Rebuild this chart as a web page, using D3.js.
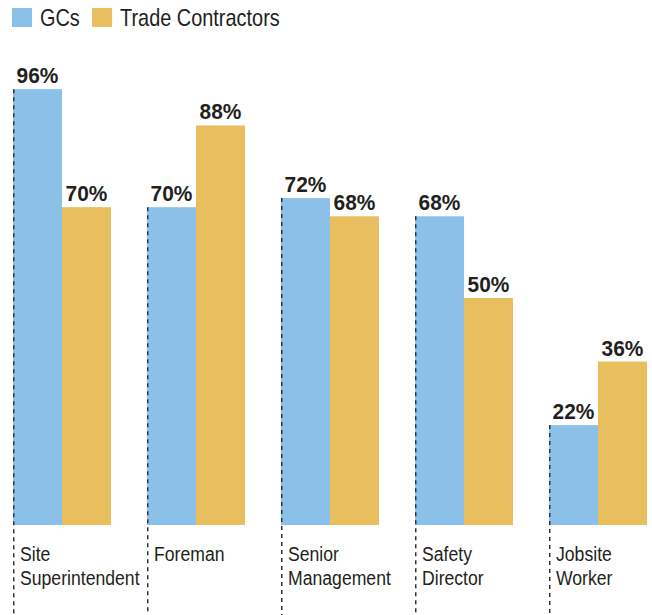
<!DOCTYPE html>
<html>
<head>
<meta charset="utf-8">
<script src="https://cdn.jsdelivr.net/npm/d3@7"></script>
<style>
  body { margin: 0; background: #fff; }
  text { font-family: "Liberation Sans", Arial, sans-serif; }
</style>
</head>
<body>
<div id="chart"></div>
<script>
// chart data
var categories = [["Site", "Superintendent"], ["Foreman"], ["Senior", "Management"], ["Safety", "Director"], ["Jobsite", "Worker"]];
var seriesNames = ["GCs", "Trade Contractors"];
var gcValues = [96, 70, 72, 68, 22];
var tradeValues = [70, 88, 68, 50, 36];
var colors = ["#8bc1e8", "#e8be5e"];

var width = 652, height = 615;
var baseline = 525;

var svg = d3.select("#chart").append("svg")
    .attr("width", width)
    .attr("height", height);

var x = d3.scaleBand()
    .domain(d3.range(categories.length))
    .range([13, 683]);

var inner = d3.scaleBand()
    .domain([0, 1])
    .range([0, 98]);

var y = d3.scaleLinear()
    .domain([0, 100])
    .range([baseline, baseline - 454]);

// legend (condensed look via horizontal squeeze)
var legend = svg.append("g");
var legendX = [12, 92];
seriesNames.forEach(function(name, i) {
  legend.append("rect")
    .attr("x", legendX[i]).attr("y", 8)
    .attr("width", 20).attr("height", 19)
    .attr("fill", colors[i]);
  legend.append("text")
    .attr("transform", "translate(" + (legendX[i] + 28) + ",26) scale(0.83,1)")
    .attr("font-size", 24)
    .attr("fill", "#231f20")
    .text(name);
});

var groups = svg.selectAll(".group")
    .data(categories)
  .enter().append("g")
    .attr("class", "group")
    .attr("transform", function(d, i) { return "translate(" + x(i) + ",0)"; });

groups.each(function(d, i) {
  var g = d3.select(this);
  var vals = [gcValues[i], tradeValues[i]];
  vals.forEach(function(v, j) {
    g.append("rect")
      .attr("x", inner(j))
      .attr("y", y(v))
      .attr("width", inner.bandwidth())
      .attr("height", baseline - y(v))
      .attr("fill", colors[j]);
    g.append("text")
      .attr("transform", "translate(" + (inner(j) + inner.bandwidth() / 2) + "," + (y(v) - 6) + ") scale(0.95,1)")
      .attr("text-anchor", "middle")
      .attr("font-size", 22)
      .attr("font-weight", "bold")
      .attr("fill", "#231f20")
      .text(v + "%");
  });

  // dashed divider from the GC bar top down
  g.append("line")
    .attr("x1", 0.75).attr("x2", 0.75)
    .attr("y1", y(gcValues[i])).attr("y2", height)
    .attr("stroke", "#333")
    .attr("stroke-width", 1.5)
    .attr("stroke-dasharray", "4,4");

  var label = g.append("text")
    .attr("transform", "translate(7,561) scale(0.84,1)")
    .attr("font-size", 21)
    .attr("fill", "#231f20");
  d.forEach(function(line, k) {
    label.append("tspan")
      .attr("x", 0)
      .attr("dy", k === 0 ? 0 : 24)
      .text(line);
  });
});
</script>
</body>
</html>
